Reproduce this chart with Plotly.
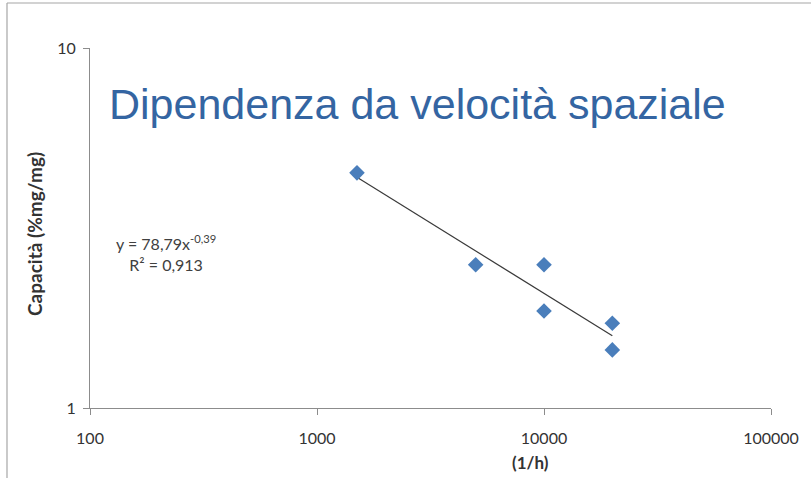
import numpy as np
import plotly.graph_objects as go

# ---- data ----
velocita = [1500, 5000, 10000, 10000, 20000, 20000]   # (1/h)
capacita = [4.5, 2.5, 2.5, 1.86, 1.72, 1.45]          # %mg/mg
x_ticks = [100, 1000, 10000, 100000]
x_tick_labels = ["100", "1000", "10000", "100000"]
y_ticks = [1, 10]
y_tick_labels = ["1", "10"]
title_text = "Dipendenza da velocità spaziale"
eq_text = "y = 78,79x<sup>-0,39</sup><br>R² = 0,913"
x_title = "(1/h)"
y_title = "Capacità (%mg/mg)"

# power-law trendline fitted in log space
slope, intercept = np.polyfit(np.log10(velocita), np.log10(capacita), 1)
trend_x = [min(velocita), max(velocita)]
trend_y = [10 ** (intercept + slope * np.log10(v)) for v in trend_x]

W, H = 811, 478
L, R, T, B = 90, 40, 48, 70
PW, PH = W - L - R, H - T - B


def px(x):
    return (x - L) / PW


def py(y):
    return (H - B - y) / PH


fig = go.Figure()
fig.add_trace(go.Scatter(x=trend_x, y=trend_y, mode="lines",
                         line=dict(color="#3a3a3a", width=1.2),
                         hoverinfo="skip", showlegend=False))
fig.add_trace(go.Scatter(x=velocita, y=capacita, mode="markers",
                         marker=dict(symbol="diamond", size=12, color="#4A7EBB"),
                         showlegend=False))

axis_col = "#8c8c8c"
tick_font = dict(family="Lato", size=16, color="#333333")

fig.update_layout(
    width=W, height=H,
    margin=dict(l=L, r=R, t=T, b=B),
    paper_bgcolor="white", plot_bgcolor="white",
    xaxis=dict(type="log", range=[2, 5], tickvals=x_ticks, ticktext=x_tick_labels,
               showgrid=False, zeroline=False, showline=True, linecolor=axis_col,
               linewidth=1.2, ticks="outside", ticklen=6, tickcolor=axis_col,
               tickfont=tick_font, ticklabelstandoff=10),
    yaxis=dict(type="log", range=[0, 1], tickvals=y_ticks, ticktext=y_tick_labels,
               showgrid=True, gridcolor=axis_col, gridwidth=1.2, zeroline=False,
               showline=True, linecolor=axis_col, linewidth=1.2,
               ticks="outside", ticklen=6, tickcolor=axis_col,
               tickfont=tick_font, ticklabelstandoff=4),
    shapes=[
        # white box covering the top gridline behind the title
        dict(type="rect", xref="paper", yref="paper",
             x0=px(297), x1=px(563), y0=py(53), y1=py(43),
             fillcolor="white", line=dict(width=0), layer="above"),
        # outer frame lines (top and left)
        dict(type="line", xref="paper", yref="paper",
             x0=px(7), x1=px(811), y0=py(3), y1=py(3),
             line=dict(color="#a6a6a6", width=1.2)),
        dict(type="line", xref="paper", yref="paper",
             x0=px(7), x1=px(7), y0=py(3), y1=py(478),
             line=dict(color="#a6a6a6", width=1.2)),
    ],
    annotations=[
        dict(text=title_text, xref="paper", yref="paper",
             x=px(107), y=py(104), xanchor="left", yanchor="middle",
             showarrow=False,
             font=dict(family="Liberation Sans", size=43, color="#3465A2")),
        dict(text=eq_text, xref="paper", yref="paper",
             x=px(166), y=py(253), xanchor="center", yanchor="middle",
             showarrow=False, align="center",
             font=dict(family="Lato", size=16, color="#404040")),
        dict(text="<b>" + y_title + "</b>", xref="paper", yref="paper",
             x=px(35), y=py(234), xanchor="center", yanchor="middle",
             textangle=-90, showarrow=False,
             font=dict(family="Lato", size=19, color="#333333")),
        dict(text="<b>" + x_title + "</b>", xref="paper", yref="paper",
             x=px(530), y=py(463), xanchor="center", yanchor="middle",
             showarrow=False,
             font=dict(family="Lato", size=17, color="#333333")),
    ],
)

fig.write_html("out.html", config={"displayModeBar": False},
               post_script="document.body.style.margin='0';document.body.style.overflow='hidden';")
